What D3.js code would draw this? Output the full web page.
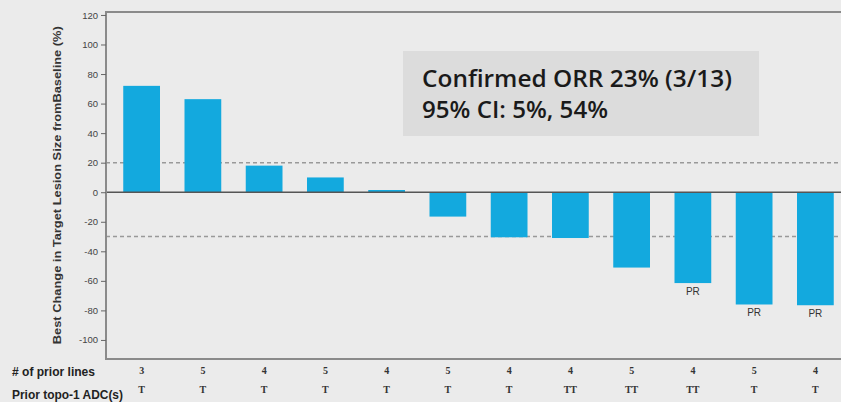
<!DOCTYPE html>
<html>
<head>
<meta charset="utf-8">
<script src="https://cdn.jsdelivr.net/npm/d3@7"></script>
<style>
  body { margin: 0; background: #ebebeb; }
  svg { display: block; }
</style>
</head>
<body>
<div id="chart"></div>
<script>
// Data
var patients = ["1", "2", "3", "4", "5", "6", "7", "8", "9", "10", "11", "12"];
var bestChange = [72, 63, 18, 10, 1.5, -16.5, -30.5, -31, -51, -61.5, -76, -76.5];
var priorLines = ["3", "5", "4", "5", "4", "5", "4", "4", "5", "4", "5", "4"];
var priorADC = ["T", "T", "T", "T", "T", "T", "T", "TT", "TT", "TT", "T", "T"];
var response = ["", "", "", "", "", "", "", "", "", "PR", "PR", "PR"];
var yTicks = [120, 100, 80, 60, 40, 20, 0, -20, -40, -60, -80, -100];
var refLines = [20, -30];

var svgWidth = 841;
var svgHeight = 402;

var plot = { left: 106, top: 12, bottom: 359 };

var svg = d3.select("#chart")
  .append("svg")
  .attr("width", svgWidth)
  .attr("height", svgHeight);

svg.append("rect")
  .attr("width", svgWidth)
  .attr("height", svgHeight)
  .attr("fill", "#ebebeb");

// Scales
var x = d3.scaleBand()
  .domain(patients)
  .range([111, 846])
  .paddingInner(0.4)
  .paddingOuter(0.2);

var y = d3.scaleLinear()
  .domain([-112.9, 122])
  .range([plot.bottom, plot.top]);

// Reference lines (dashed)
svg.selectAll(".ref")
  .data(refLines)
  .enter()
  .append("line")
  .attr("x1", plot.left)
  .attr("x2", svgWidth)
  .attr("y1", d => y(d))
  .attr("y2", d => y(d))
  .attr("stroke", "#999")
  .attr("stroke-width", 1.5)
  .attr("stroke-dasharray", "4,3");

// Bars
svg.selectAll(".bar")
  .data(bestChange)
  .enter()
  .append("rect")
  .attr("x", (d, i) => x(patients[i]))
  .attr("width", x.bandwidth())
  .attr("y", d => y(Math.max(0, d)))
  .attr("height", d => Math.abs(y(d) - y(0)))
  .attr("fill", "#13a9de");

// Zero line
svg.append("line")
  .attr("x1", plot.left)
  .attr("x2", svgWidth)
  .attr("y1", y(0))
  .attr("y2", y(0))
  .attr("stroke", "#555")
  .attr("stroke-width", 1.5);

// Frame
svg.append("path")
  .attr("d", `M${svgWidth},${plot.top}H${plot.left}V${plot.bottom}H${svgWidth}`)
  .attr("fill", "none")
  .attr("stroke", "#8a8a8a")
  .attr("stroke-width", 2);

// Left axis (plain hyphen for negatives, as in the original)
var leftAxis = d3.axisLeft(y)
  .tickValues(yTicks)
  .tickFormat(d => String(d))
  .tickSize(5)
  .tickPadding(3);

var axisG = svg.append("g")
  .attr("transform", `translate(${plot.left}, 0)`)
  .call(leftAxis);

axisG.select(".domain").remove();
axisG.selectAll(".tick line").attr("stroke", "#666");
axisG.selectAll(".tick text")
  .attr("fill", "#444")
  .style("font-family", "'Liberation Sans', Arial, sans-serif")
  .style("font-size", "9.5px");

// Y axis title
svg.append("text")
  .attr("transform", `translate(61, ${y(0) - 7}) rotate(-90)`)
  .attr("text-anchor", "middle")
  .attr("fill", "#333")
  .style("font-family", "'Liberation Sans', Arial, sans-serif")
  .style("font-size", "11px")
  .style("font-weight", "bold")
  .attr("textLength", 318)
  .attr("lengthAdjust", "spacingAndGlyphs")
  .text("Best Change in Target Lesion Size fromBaseline (%)");

// PR labels
svg.selectAll(".resp")
  .data(response)
  .enter()
  .append("text")
  .attr("x", (d, i) => x(patients[i]) + x.bandwidth() / 2)
  .attr("y", (d, i) => y(bestChange[i]) + 12)
  .attr("text-anchor", "middle")
  .attr("fill", "#333")
  .style("font-family", "'Liberation Sans', Arial, sans-serif")
  .style("font-size", "10px")
  .text(d => d);

// Summary box
svg.append("rect")
  .attr("x", 403)
  .attr("y", 51)
  .attr("width", 356)
  .attr("height", 85)
  .attr("fill", "#dcdcdc");

var boxLines = [
  { text: "Confirmed ORR 23% (3/13)", y: 87, len: 310 },
  { text: "95% CI: 5%, 54%", y: 118, len: 186 }
];

svg.selectAll(".boxText")
  .data(boxLines)
  .enter()
  .append("text")
  .attr("x", 422)
  .attr("y", d => d.y)
  .attr("fill", "#1a1a1a")
  .style("font-family", "'Open Sans', sans-serif")
  .style("font-size", "23px")
  .style("font-weight", 600)
  .attr("textLength", d => d.len)
  .attr("lengthAdjust", "spacingAndGlyphs")
  .text(d => d.text);

// Table rows under the chart
var rowLabels = [
  { text: "# of prior lines", y: 376, len: 83 },
  { text: "Prior topo-1 ADC(s)", y: 399, len: 111 }
];

svg.selectAll(".rowLabel")
  .data(rowLabels)
  .enter()
  .append("text")
  .attr("x", 12)
  .attr("y", d => d.y)
  .attr("fill", "#222")
  .style("font-family", "'Liberation Sans', Arial, sans-serif")
  .style("font-size", "12px")
  .style("font-weight", "bold")
  .attr("textLength", d => d.len)
  .attr("lengthAdjust", "spacingAndGlyphs")
  .text(d => d.text);

svg.selectAll(".lines")
  .data(priorLines)
  .enter()
  .append("text")
  .attr("x", (d, i) => x(patients[i]) + x.bandwidth() / 2)
  .attr("y", 374)
  .attr("text-anchor", "middle")
  .attr("fill", "#333")
  .style("font-family", "'Liberation Serif', serif")
  .style("font-size", "10px")
  .style("font-weight", "bold")
  .text(d => d);

svg.selectAll(".adc")
  .data(priorADC)
  .enter()
  .append("text")
  .attr("x", (d, i) => x(patients[i]) + x.bandwidth() / 2)
  .attr("y", 393)
  .attr("text-anchor", "middle")
  .attr("fill", "#333")
  .style("font-family", "'Liberation Serif', serif")
  .style("font-size", "10px")
  .style("font-weight", "bold")
  .text(d => d);
</script>
</body>
</html>
